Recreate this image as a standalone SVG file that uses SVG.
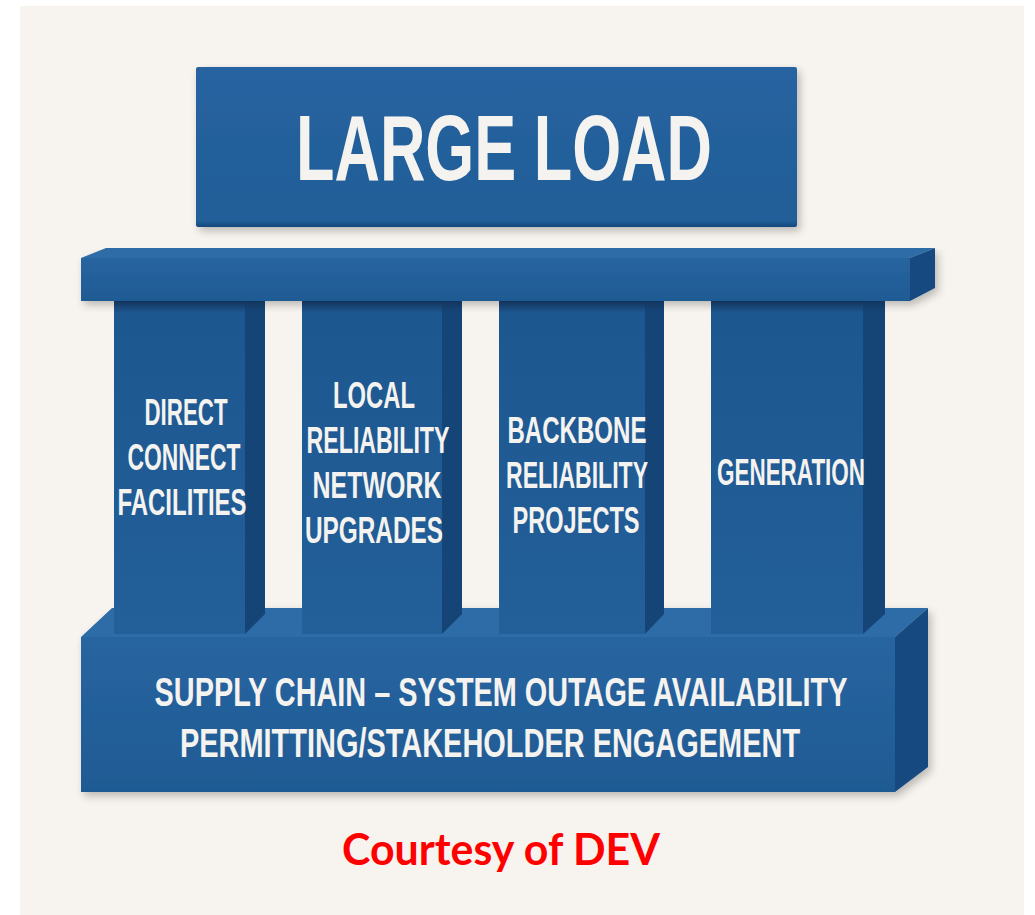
<svg xmlns="http://www.w3.org/2000/svg" width="1035" height="915" viewBox="0 0 1035 915">
  <defs>
    <linearGradient id="frontG" x1="0" y1="0" x2="0" y2="1">
      <stop offset="0" stop-color="#2865a0"/>
      <stop offset="1" stop-color="#1f5a94"/>
    </linearGradient>
    <linearGradient id="pillarG" x1="0" y1="0" x2="0" y2="1">
      <stop offset="0" stop-color="#173f70"/>
      <stop offset="0.04" stop-color="#1d5790"/>
      <stop offset="1" stop-color="#235f99"/>
    </linearGradient>
    <linearGradient id="boxG" x1="0" y1="0" x2="0" y2="1">
      <stop offset="0" stop-color="#2763a0"/>
      <stop offset="0.96" stop-color="#215e98"/>
      <stop offset="1" stop-color="#17487c"/>
    </linearGradient>
    <filter id="shadow" x="-5%" y="-5%" width="115%" height="125%">
      <feGaussianBlur in="SourceAlpha" stdDeviation="4"/>
      <feOffset dx="3" dy="4"/>
      <feComponentTransfer><feFuncA type="linear" slope="0.25"/></feComponentTransfer>
      <feMerge><feMergeNode/><feMergeNode in="SourceGraphic"/></feMerge>
    </filter>
  </defs>
  <style>
    .top { fill: #2d6ca7; }
    .side { fill: #184a7f; }
    .pside { fill: #154477; }
    .lbl { font-family: "Liberation Sans", Arial, sans-serif; font-weight: bold; fill: #f5f3ef; text-anchor: middle; }
    .pl { font-size: 36px; }
    .bl { font-size: 41px; }
  </style>
  <rect x="0" y="0" width="1035" height="915" fill="#ffffff"/>
  <rect x="20" y="6" width="1004" height="909" fill="#f7f4ef"/>

  <g id="large-load">
    <rect x="196" y="67" width="601" height="160" rx="2" fill="url(#boxG)" filter="url(#shadow)"/>
    <text class="lbl" x="504" y="180" font-size="93" textLength="416" lengthAdjust="spacingAndGlyphs">LARGE LOAD</text>
  </g>

  <g id="base">
    <g filter="url(#shadow)">
      <polygon class="top" points="81,637 112,608 928,608 895,637"/>
      <polygon class="side" points="895,637 928,608 928,767 895,792"/>
      <rect x="81" y="637" width="814" height="155" fill="url(#frontG)"/>
    </g>
    <text class="lbl bl" transform="translate(501,706) scale(0.69,1)" x="0" y="0" textLength="1004" lengthAdjust="spacingAndGlyphs">SUPPLY CHAIN – SYSTEM OUTAGE AVAILABILITY</text>
    <text class="lbl bl" transform="translate(490,757) scale(0.7,1)" x="0" y="0" textLength="886" lengthAdjust="spacingAndGlyphs">PERMITTING/STAKEHOLDER ENGAGEMENT</text>
  </g>

  <g id="pillar-direct-connect">
    <polygon class="pside" points="245,300 265,300 265,614 245,634"/>
    <rect x="114" y="300" width="131" height="334" fill="url(#pillarG)"/>
    <text class="lbl pl" x="186" y="425" textLength="83" lengthAdjust="spacingAndGlyphs">DIRECT</text>
    <text class="lbl pl" x="184" y="470" textLength="113" lengthAdjust="spacingAndGlyphs">CONNECT</text>
    <text class="lbl pl" x="182" y="515" textLength="129" lengthAdjust="spacingAndGlyphs">FACILITIES</text>
  </g>

  <g id="pillar-local-reliability">
    <polygon class="pside" points="442,300 462,300 462,614 442,634"/>
    <rect x="302" y="300" width="140" height="334" fill="url(#pillarG)"/>
    <text class="lbl pl" x="374" y="408" textLength="82" lengthAdjust="spacingAndGlyphs">LOCAL</text>
    <text class="lbl pl" x="378" y="453" textLength="143" lengthAdjust="spacingAndGlyphs">RELIABILITY</text>
    <text class="lbl pl" x="377" y="498" textLength="129" lengthAdjust="spacingAndGlyphs">NETWORK</text>
    <text class="lbl pl" x="374" y="543" textLength="138" lengthAdjust="spacingAndGlyphs">UPGRADES</text>
  </g>

  <g id="pillar-backbone">
    <polygon class="pside" points="645,300 664,300 664,614 645,634"/>
    <rect x="499" y="300" width="146" height="334" fill="url(#pillarG)"/>
    <text class="lbl pl" x="577" y="443" textLength="139" lengthAdjust="spacingAndGlyphs">BACKBONE</text>
    <text class="lbl pl" x="577" y="488" textLength="142" lengthAdjust="spacingAndGlyphs">RELIABILITY</text>
    <text class="lbl pl" x="576" y="533" textLength="127" lengthAdjust="spacingAndGlyphs">PROJECTS</text>
  </g>

  <g id="pillar-generation">
    <polygon class="pside" points="863,300 885,300 885,614 863,634"/>
    <rect x="711" y="300" width="152" height="334" fill="url(#pillarG)"/>
    <text class="lbl pl" x="791" y="485" textLength="148" lengthAdjust="spacingAndGlyphs">GENERATION</text>
  </g>

  <g id="beam" filter="url(#shadow)">
    <polygon class="top" points="81,258 106,248 935,248 910,258"/>
    <polygon class="side" points="910,258 935,248 935,288 910,301"/>
    <rect x="81" y="258" width="829" height="43" fill="url(#frontG)"/>
  </g>

  <g id="credit">
    <text x="501" y="865" font-family="Lato, 'Liberation Sans', sans-serif" font-weight="bold" font-size="44" fill="#ff0000" text-anchor="middle" textLength="318" lengthAdjust="spacingAndGlyphs">Courtesy of DEV</text>
  </g>
</svg>
